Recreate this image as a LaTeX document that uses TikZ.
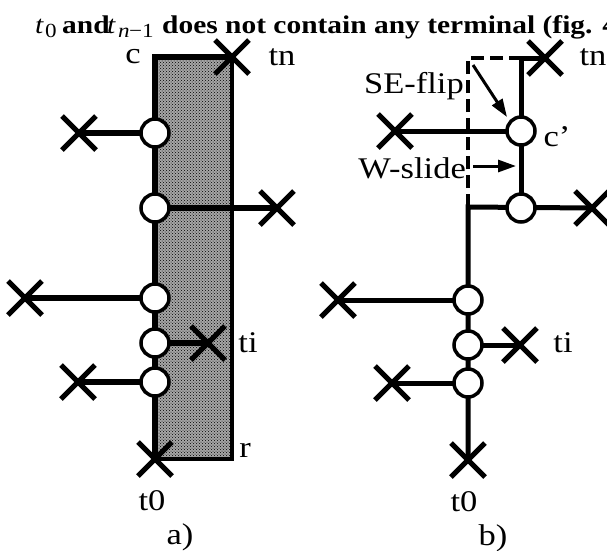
\documentclass[tikz,border=0pt]{standalone}
\usepackage{fontspec}
\setmainfont{Liberation Serif}
% wide set type, as in the printed figure
\newfontfamily\capfont{Liberation Serif}[FakeStretch=1.155]
\newfontfamily\lblfont{Liberation Serif}[FakeStretch=1.15]
\usetikzlibrary{shapes.misc,arrows.meta,patterns}
\pgfdeclarelayer{background}
\pgfsetlayers{background,main}
\begin{document}
\begin{tikzpicture}[x=1pt,y=-1pt,
  pin/.style={circle,draw,fill=white,line width=3.5pt,minimum size=28pt,inner sep=0pt},
  term/.style={cross out,draw,line width=5pt,minimum size=29pt,inner sep=0pt},
  wire/.style={line width=6pt},
  thinwire/.style={line width=5pt},
  frame/.style={line width=4pt},
  flipline/.style={line width=4pt,dash pattern=on 13pt off 6pt},
  move/.style={line width=3pt,-{Triangle[length=18pt,width=12pt]}},
  lbl/.style={font=\lblfont\fontsize{30}{32}\selectfont,inner sep=0pt},
  capword/.style={font=\capfont\fontsize{25.5}{28}\selectfont\bfseries,inner sep=0pt,anchor=base west},
  capvar/.style={font=\capfont\fontsize{25.5}{28}\selectfont\itshape,inner sep=0pt,anchor=base west},
  capsub/.style={font=\capfont\fontsize{20}{22}\selectfont,inner sep=0pt,anchor=base west},
  capsubvar/.style={font=\capfont\fontsize{20}{22}\selectfont\itshape,inner sep=0pt,anchor=base west},
]
\useasboundingbox (0,0) rectangle (607,550);

% caption line: t_0 and t_{n-1} does not contain any terminal (fig. 4b);
\node[capvar] (cap1) at (35,33) {t};
\node[capsub] (cap2) at (45,37) {0};
\node[capword] (cap3) at (62,33) {and};
\node[capvar] (cap4) at (107,33) {t};
\node[capsubvar] (cap5) at (118,37) {n};
\node[capsub] (cap6) at (129,37) {−1};
\node[capword] (cap7) at (162,33) {does not contain any terminal (fig. 4b);};

% ---------------- a) ----------------
\coordinate (cA) at (155,57);
\coordinate (rA) at (232,459);
\node[term] (tnA) at (232,57) {};
\node[pin] (a1) at (155,133) {};
\node[pin] (a2) at (155,208) {};
\node[pin] (a3) at (155,298) {};
\node[pin] (a4) at (155,343) {};
\node[pin] (a5) at (155,382) {};
\node[term] (xa1) at (79,133) {};
\node[term] (xa2) at (277,208) {};
\node[term] (xa3) at (25,298) {};
\node[term] (xa4) at (208,343) {};
\node[term] (xa5) at (78,382) {};
\node[term] (t0A) at (155,459) {};

\begin{pgfonlayer}{background}
  \fill[black!35] (cA) rectangle (rA);
  \fill[pattern=crosshatch dots,pattern color=black] (cA) rectangle (rA);
  \draw[frame] (tnA.center) |- (rA) -- (t0A.center);
  \draw[wire,line cap=rect] (tnA.center) -- (cA) -- (t0A.center);
  \draw[wire] (a1.center) -- (xa1.center);
  \draw[wire] (a2.center) -- (xa2.center);
  \draw[wire] (a3.center) -- (xa3.center);
  \draw[wire] (a4.center) -- (xa4.center);
  \draw[wire] (a5.center) -- (xa5.center);
\end{pgfonlayer}

\node[lbl,anchor=base] (lc) at (133,63) {c};
\node[lbl,anchor=base] (ltnA) at (282,65) {tn};
\node[lbl,anchor=base] (ltiA) at (248,352) {ti};
\node[lbl,anchor=base] (lr) at (245,457) {r};
\node[lbl,anchor=base] (lt0A) at (152,510) {t0};
\node[lbl,anchor=base] (la) at (180,544) {a)};

% ---------------- b) ----------------
\coordinate (topB) at (521,58);
\coordinate (flipB) at (468,58);
\coordinate (bendB) at (468,207);
\node[term] (tnB) at (545,58) {};
\node[pin] (b1) at (521,131) {};
\node[pin] (b2) at (521,208) {};
\node[pin] (b3) at (468,300) {};
\node[pin] (b4) at (468,345) {};
\node[pin] (b5) at (468,383) {};
\node[term] (xb1) at (395,131) {};
\node[term] (xb2) at (592,208) {};
\node[term] (xb3) at (338,300) {};
\node[term] (xb4) at (520,345) {};
\node[term] (xb5) at (392,383) {};
\node[term] (t0B) at (468,460) {};

\begin{pgfonlayer}{background}
  \draw[flipline] (bendB) -- (flipB) -- (topB);
  \draw[thinwire,line cap=rect] (tnB.center) -- (topB) -- (b1.center);
  \draw[thinwire] (b1.center) -- (b2.center);
  \draw[thinwire] (xb2.center) -- (bendB) -- (t0B.center);
  \draw[thinwire] (b1.center) -- (xb1.center);
  \draw[thinwire] (b3.center) -- (xb3.center);
  \draw[thinwire] (b4.center) -- (xb4.center);
  \draw[thinwire] (b5.center) -- (xb5.center);
\end{pgfonlayer}

\coordinate (seS) at (473,65);
\coordinate (seE) at (507,117);
\coordinate (wsS) at (473,166);
\coordinate (wsE) at (516,166);
\draw[move] (seS) -- (seE);
\draw[move] (wsS) -- (wsE);

\node[lbl,anchor=base east] (lse) at (464,93) {SE-flip};
\node[lbl,anchor=base east] (lws) at (466,178) {W-slide};
\node[lbl,anchor=base] (ltnB) at (593,65) {tn};
\node[lbl,anchor=base] (lcp) at (557,146) {c’};
\node[lbl,anchor=base] (ltiB) at (563,352) {ti};
\node[lbl,anchor=base] (lt0B) at (464,511) {t0};
\node[lbl,anchor=base] (lb) at (493,545) {b)};
\end{tikzpicture}
\end{document}
